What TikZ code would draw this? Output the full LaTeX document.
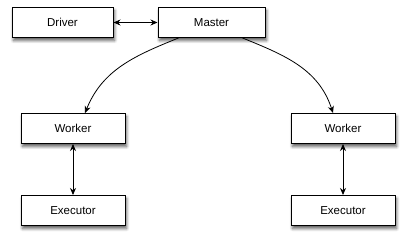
\documentclass[tikz,border=0pt]{standalone}
\usepackage{fontspec}
\setmainfont{Liberation Sans}
\usetikzlibrary{arrows.meta,shadows.blur}
\begin{document}
\begin{tikzpicture}[x=1pt,y=1pt,
  box/.style={draw,line width=1pt,fill=white,minimum height=30pt,
    font=\fontsize{11.5}{13}\selectfont,
    blur shadow={shadow xshift=1.5pt,shadow yshift=-3pt,shadow blur steps=6,shadow blur radius=3pt,shadow opacity=65}},
  link/.style={line width=0.9pt,{Stealth[length=7pt,width=6pt]}-{Stealth[length=7pt,width=6pt]}},
  push/.style={line width=0.8pt,-{Stealth[length=7pt,width=6pt]}}]
\useasboundingbox (0,0) rectangle (406,241);
\node[box,minimum width=101pt] (D) at (62.5,218.5){Driver};
\node[box,minimum width=107pt] (M) at (211.5,218.5){Master};
\node[box,minimum width=104pt] (W1) at (73,112.5){Worker};
\node[box,minimum width=104pt] (W2) at (343,112.5){Worker};
\node[box,minimum width=104pt] (E1) at (73,30.5){Executor};
\node[box,minimum width=104pt] (E2) at (343,30.5){Executor};
\draw[link] (D)--(M);
\draw[link] (W1)--(E1);
\draw[link] (W2)--(E2);
\draw[push] ([xshift=-33pt]M.south) to[out=202,in=68] ([xshift=12pt]W1.north);
\draw[push] ([xshift=31pt]M.south) to[out=-22,in=108] ([xshift=-10pt]W2.north);
\end{tikzpicture}
\end{document}
